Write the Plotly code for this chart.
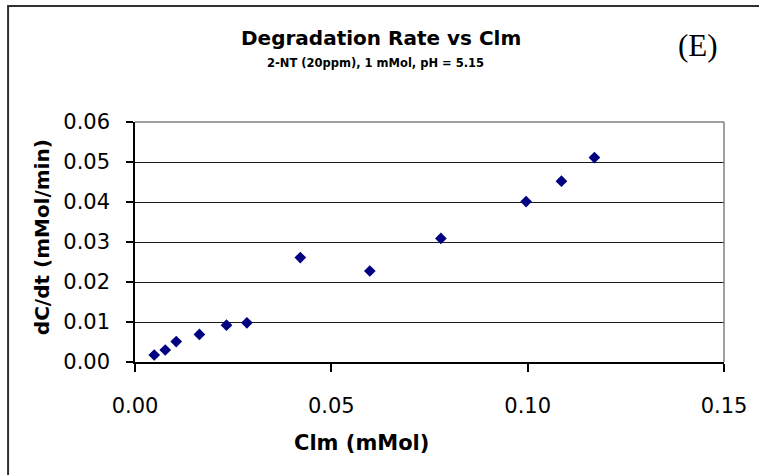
import plotly.graph_objects as go

# Data
clm_mmol = [0.0049, 0.0077, 0.0105, 0.0164, 0.0233, 0.0285, 0.0421, 0.0598, 0.0779, 0.0996, 0.1086, 0.1170]
rate_mmol_min = [0.00175, 0.0030, 0.0051, 0.0069, 0.0092, 0.0098, 0.0261, 0.02275, 0.0309, 0.0401, 0.0452, 0.0511]

x_ticks = [0.00, 0.05, 0.10, 0.15]
y_ticks = [0.00, 0.01, 0.02, 0.03, 0.04, 0.05, 0.06]

title_text = "<b>Degradation Rate vs Clm</b>"
subtitle_text = "<b>2-NT (20ppm), 1 mMol, pH = 5.15</b>"
panel_label = "(E)"
x_title = "<b>Clm (mMol)</b>"
y_title = "<b>dC/dt (mMol/min)</b>"

FONT = "DejaVu Sans"

fig = go.Figure()
fig.add_trace(go.Scatter(
    x=clm_mmol, y=rate_mmol_min, mode="markers",
    marker=dict(symbol="diamond", size=9, color="#000080", line=dict(width=0)),
    showlegend=False, hoverinfo="x+y",
))

fig.update_layout(
    width=759, height=475,
    margin=dict(l=135, r=30, t=122, b=113),
    paper_bgcolor="white", plot_bgcolor="white",
    font=dict(family=FONT, color="black"),
    showlegend=False,
    xaxis=dict(
        range=[0, 0.15], tickvals=x_ticks, ticktext=[f"{v:.2f}" for v in x_ticks],
        showgrid=False, zeroline=False,
        showline=True, linecolor="black", linewidth=1.5,
        ticks="outside", ticklen=8, tickcolor="black", tickwidth=1.5,
        tickfont=dict(family=FONT, size=21, color="black"),
        ticklabelstandoff=16,
        fixedrange=True,
    ),
    yaxis=dict(
        range=[0, 0.06], tickvals=y_ticks, ticktext=[f"{v:.2f}" for v in y_ticks],
        showgrid=True, gridcolor="#1a1a1a", gridwidth=1,
        zeroline=False,
        showline=True, linecolor="black", linewidth=1.5,
        ticks="outside", ticklen=7, tickcolor="black", tickwidth=1.5,
        tickfont=dict(family=FONT, size=21, color="black"),
        ticklabelstandoff=12,
        fixedrange=True,
    ),
    annotations=[
        dict(text=title_text, x=0.4175, y=1.35, xref="paper", yref="paper",
             xanchor="center", yanchor="middle", showarrow=False,
             font=dict(family=FONT, size=20, color="black")),
        dict(text=subtitle_text, x=0.409, y=1.246, xref="paper", yref="paper",
             xanchor="center", yanchor="middle", showarrow=False,
             font=dict(family=FONT, size=11.5, color="black")),
        dict(text=panel_label, x=0.956, y=1.317, xref="paper", yref="paper",
             xanchor="center", yanchor="middle", showarrow=False,
             font=dict(family="Liberation Serif", size=31, color="black")),
        dict(text=x_title, x=0.384, y=-0.3375, xref="paper", yref="paper",
             xanchor="center", yanchor="middle", showarrow=False,
             font=dict(family=FONT, size=21, color="black")),
        dict(text=y_title, x=-0.158, y=0.52, xref="paper", yref="paper",
             xanchor="center", yanchor="middle", showarrow=False, textangle=-90,
             font=dict(family=FONT, size=20, color="black")),
    ],
    shapes=[
        # plot area border (top and right, gray)
        dict(type="line", xref="paper", yref="paper", x0=0, x1=1, y0=1, y1=1,
             line=dict(color="#808080", width=1.5)),
        dict(type="line", xref="paper", yref="paper", x0=1, x1=1, y0=0, y1=1,
             line=dict(color="#808080", width=1.5)),
        # outer chart border (extends beyond the visible frame at right/bottom)
        dict(type="rect", xref="paper", yref="paper", x0=-0.2155, x1=1.2, y0=-0.6, y1=1.4833,
             line=dict(color="#303030", width=2), layer="above"),
    ],
)

fig.write_html(
    "out.html",
    config={"displayModeBar": False},
    post_script="document.body.style.margin='0';document.body.style.overflow='hidden';",
)
